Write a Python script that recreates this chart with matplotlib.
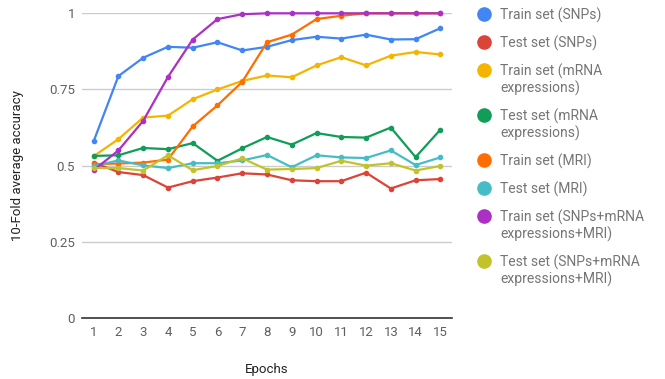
"""10-fold average accuracy per epoch for each data modality."""

import matplotlib

matplotlib.use("Agg")
import matplotlib.pyplot as plt
from matplotlib.lines import Line2D

plt.rcParams["font.family"] = ["Roboto", "DejaVu Sans"]

epochs = list(range(1, 16))

train_snps = [0.580, 0.794, 0.854, 0.890, 0.887, 0.905, 0.878, 0.890,
              0.912, 0.923, 0.917, 0.930, 0.914, 0.915, 0.951]
test_snps = [0.510, 0.479, 0.469, 0.428, 0.449, 0.461, 0.475, 0.471,
             0.452, 0.449, 0.449, 0.477, 0.425, 0.452, 0.456]
train_mrna = [0.531, 0.587, 0.658, 0.664, 0.718, 0.750, 0.778, 0.796,
              0.790, 0.829, 0.856, 0.829, 0.861, 0.873, 0.865]
test_mrna = [0.532, 0.534, 0.558, 0.554, 0.574, 0.516, 0.557, 0.594,
             0.569, 0.607, 0.594, 0.592, 0.625, 0.528, 0.618]
train_mri = [0.505, 0.507, 0.510, 0.520, 0.629, 0.698, 0.775, 0.905,
             0.930, 0.981, 0.992, 1.0, 1.0, 1.0, 1.0]
test_mri = [0.499, 0.517, 0.501, 0.492, 0.508, 0.508, 0.517, 0.535,
            0.495, 0.534, 0.527, 0.525, 0.550, 0.502, 0.527]
train_all = [0.485, 0.550, 0.647, 0.791, 0.914, 0.981, 0.997, 1.0,
             1.0, 1.0, 1.0, 1.0, 1.0, 1.0, 1.0]
test_all = [0.492, 0.492, 0.484, 0.534, 0.485, 0.499, 0.524, 0.487,
            0.489, 0.492, 0.516, 0.500, 0.508, 0.484, 0.499]

labels = [
    "Train set (SNPs)",
    "Test set (SNPs)",
    "Train set (mRNA\nexpressions)",
    "Test set (mRNA\nexpressions)",
    "Train set (MRI)",
    "Test set (MRI)",
    "Train set (SNPs+mRNA\nexpressions+MRI)",
    "Test set (SNPs+mRNA\nexpressions+MRI)",
]
colors = ["#4285F4", "#DB4437", "#F4B400", "#0F9D58",
          "#FF6D00", "#46BDC6", "#AB30C4", "#C2C22B"]
series = [train_snps, test_snps, train_mrna, test_mrna,
          train_mri, test_mri, train_all, test_all]

yticks = [0, 0.25, 0.5, 0.75, 1]
ytick_labels = ["0", "0.25", "0.5", "0.75", "1"]

W, H = 665, 379
fig = plt.figure(figsize=(W / 100, H / 100), dpi=100, facecolor="white")
ax = fig.add_axes([82 / W, 1 - 318 / H, 370 / W, (318 - 13.3) / H])

for vals, c in zip(series, colors):
    ax.plot(epochs, vals, color=c, lw=1.6, marker="o", ms=3,
            clip_on=False, zorder=3)

ax.set_xlim(0.53, 15.47)
ax.set_ylim(0, 1)
ax.set_xticks(epochs)
ax.set_yticks(yticks)
ax.set_yticklabels(ytick_labels)
ax.grid(axis="y", color="#cccccc", lw=1)
ax.set_axisbelow(True)
for s in ["top", "right", "left"]:
    ax.spines[s].set_visible(False)
ax.spines["bottom"].set_color("#333333")
ax.spines["bottom"].set_linewidth(1.2)
ax.spines["bottom"].set_zorder(4)
ax.tick_params(length=0, labelsize=9.5, labelcolor="#5f5f5f")
ax.tick_params(axis="y", pad=5)
ax.tick_params(axis="x", pad=6)

fig.text(267 / W, 1 - 369 / H, "Epochs", ha="center", va="center",
         fontsize=9.5, color="#222222")
fig.text(18 / W, 1 - 166 / H, "10-Fold average accuracy", ha="center",
         va="center", rotation=90, fontsize=9.5, color="#222222")

# legend: dot beside the first line of each (possibly wrapped) label
y = 14
for lab, c in zip(labels, colors):
    fig.add_artist(Line2D([484 / W], [1 - y / H], marker="o", ms=9.5,
                          color=c, transform=fig.transFigure))
    for i, line in enumerate(lab.split("\n")):
        fig.text(500 / W, 1 - (y + 17 * i) / H, line, ha="left",
                 va="center_baseline", fontsize=10, color="#757575")
    y += 28 + 17 * lab.count("\n")

fig.savefig("out.png", dpi=100, facecolor="white")
